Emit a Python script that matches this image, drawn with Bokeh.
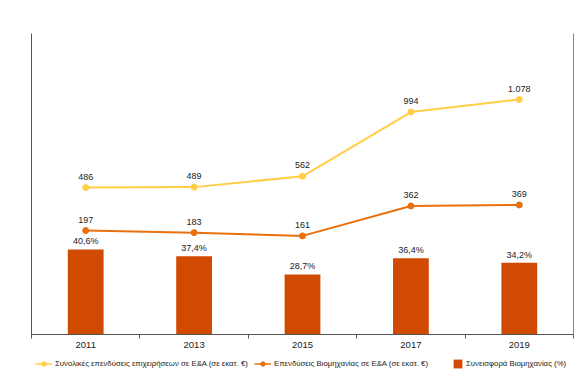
from bokeh.plotting import figure
from bokeh.layouts import column
from bokeh.models import (Range1d, LinearAxis, FixedTicker, ColumnDataSource,
                          Legend, LegendItem)
from bokeh.core.properties import value
from bokeh.embed import file_html
from bokeh.resources import INLINE

years = ["2011", "2013", "2015", "2017", "2019"]
total_rd = [486, 489, 562, 994, 1078]
industry_rd = [197, 183, 161, 362, 369]
industry_share = [40.6, 37.4, 28.7, 36.4, 34.2]

name_total = "Συνολικές επενδύσεις επιχειρήσεων σε Ε&Α (σε εκατ. €)"
name_ind = "Επενδύσεις Βιομηχανίας σε Ε&Α (σε εκατ. €)"
name_share = "Συνεισφορά Βιομηχανίας (%)"

YELLOW = "#FFCE45"
ORANGE = "#E8700F"
BAR = "#D04A02"
FONT = "Liberation Sans"


def fmt_int(v):
    return f"{v:,}".replace(",", ".")


def fmt_pct(v):
    return f"{v:.1f}".replace(".", ",") + "%"


xs = [i + 0.5 for i in range(len(years))]

src = ColumnDataSource(dict(
    x=xs,
    total=total_rd,
    ind=industry_rd,
    share=industry_share,
    total_lbl=[fmt_int(v) for v in total_rd],
    ind_lbl=[fmt_int(v) for v in industry_rd],
    share_lbl=[fmt_pct(v) for v in industry_share],
))

p = figure(width=581, height=357, output_backend="svg", toolbar_location=None,
           x_range=Range1d(0, len(years)), y_range=Range1d(0, 143.7),
           min_border_left=31, min_border_right=8, min_border_top=33,
           min_border_bottom=23, background_fill_color="white",
           border_fill_color="white", outline_line_color=None)
p.extra_y_ranges = {"inv": Range1d(-502, 1522)}
p.grid.visible = False
p.yaxis.visible = False

# left & right plain axis lines
for side in ("left", "right"):
    ax = LinearAxis(ticker=FixedTicker(ticks=[]), major_label_text_font_size="0px",
                    axis_line_color="#555555" if side == "left" else "#888888",
                    axis_line_width=1, major_tick_line_color=None,
                    minor_tick_line_color=None)
    p.add_layout(ax, side)

xa = p.xaxis[0]
xa.ticker = FixedTicker(ticks=xs, minor_ticks=list(range(len(years) + 1)))
xa.major_label_overrides = {x: y for x, y in zip(xs, years)}
xa.major_tick_line_color = None
xa.minor_tick_line_color = "#555555"
xa.minor_tick_in = 0
xa.minor_tick_out = 4
xa.axis_line_color = "#555555"
xa.major_label_text_font = FONT
xa.major_label_text_font_size = "9.5px"
xa.major_label_text_color = "#222222"
xa.major_label_standoff = 1

p.vbar(x="x", top="share", width=0.33, bottom=0, source=src,
       fill_color=BAR, line_color=None)
p.text(x="x", y="share", text="share_lbl", source=src, text_align="center",
       text_baseline="bottom", y_offset=-3, text_font=value(FONT),
       text_font_size="9px", text_color="#222222")

p.line(x="x", y="total", source=src, color=YELLOW, line_width=2,
       y_range_name="inv")
p.scatter(x="x", y="total", source=src, color=YELLOW, size=6,
          y_range_name="inv")
p.line(x="x", y="ind", source=src, color=ORANGE, line_width=2,
       y_range_name="inv")
p.scatter(x="x", y="ind", source=src, color=ORANGE, size=6,
          y_range_name="inv")
for col, lbl in (("total", "total_lbl"), ("ind", "ind_lbl")):
    p.text(x="x", y=col, text=lbl, source=src, text_align="center",
           text_baseline="bottom", y_offset=-8, text_font=value(FONT),
           text_font_size="9px", text_color="#222222", y_range_name="inv")

# legend strip (dummy renderers kept outside the visible range)
lg = figure(width=581, height=20, output_backend="svg", toolbar_location=None,
            x_range=Range1d(0, 1), y_range=Range1d(0, 1),
            min_border_left=0, min_border_right=0, min_border_top=0,
            min_border_bottom=0, outline_line_color=None,
            background_fill_color="white", border_fill_color="white")
lg.axis.visible = False
lg.grid.visible = False
dummy = ColumnDataSource(dict(x=[-5, -6], y=[-5, -6]))
ll1 = lg.line(x="x", y="y", source=dummy, color=YELLOW, line_width=1.5)
ls1 = lg.scatter(x="x", y="y", source=dummy, color=YELLOW, size=5)
ll2 = lg.line(x="x", y="y", source=dummy, color=ORANGE, line_width=1.5)
ls2 = lg.scatter(x="x", y="y", source=dummy, color=ORANGE, size=5)
lb = lg.vbar(x="x", top="y", width=0.1, bottom=-7, source=dummy,
             fill_color=BAR, line_color=None)

common = dict(orientation="horizontal", label_text_font=FONT,
              label_text_font_size="7.8px", label_text_color="#222222",
              glyph_height=11, label_standoff=3, padding=0,
              margin=0, border_line_color=None, background_fill_alpha=0,
              label_height=11)
legend1 = Legend(items=[
    LegendItem(label=name_total, renderers=[ll1, ls1]),
    LegendItem(label=name_ind, renderers=[ll2, ls2]),
], location=(4, 8), spacing=6, glyph_width=17, **common)
legend2 = Legend(items=[
    LegendItem(label=name_share, renderers=[lb]),
], location=(421, 8), spacing=0, glyph_width=11, **common)
lg.add_layout(legend1, "center")
lg.add_layout(legend2, "center")

layout = column(p, lg, spacing=0)
open("out.html", "w").write(file_html(layout, INLINE))
